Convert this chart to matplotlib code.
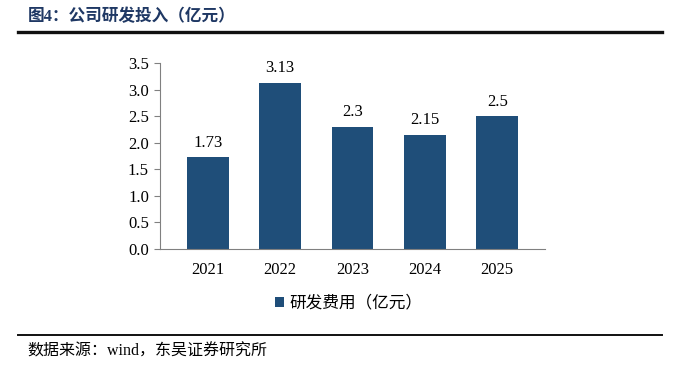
import matplotlib.pyplot as plt
from matplotlib.lines import Line2D

years = ["2021", "2022", "2023", "2024", "2025"]
rd_cost = [1.73, 3.13, 2.3, 2.15, 2.5]
value_labels = ["1.73", "3.13", "2.3", "2.15", "2.5"]

serif = ["Liberation Serif", "Noto Sans CJK SC"]
bar_color = "#1F4E79"

fig = plt.figure(figsize=(6.79, 3.70), dpi=100)
W, H = 679, 370

# axes: left 160px, right 545px, bottom y=249, top y=63
ax = fig.add_axes([160 / W, 1 - 249 / H, (545 - 160) / W, (249 - 63) / H])
x = list(range(len(years)))
bars = ax.bar(x, rd_cost, width=0.58, color=bar_color, zorder=2)
for xi, v, lab in zip(x, rd_cost, value_labels):
    ax.text(xi, v + 0.12, lab, ha="center", va="bottom", fontsize=12,
            family=serif, color="#000000")

ax.set_xlim(-0.66, 4.66)
ax.set_ylim(0, 3.5)
ax.set_yticks([0, 0.5, 1.0, 1.5, 2.0, 2.5, 3.0, 3.5])
ax.set_yticklabels([f"{t:.1f}" for t in ax.get_yticks()], family=serif, fontsize=12)
ax.set_xticks(x)
ax.set_xticklabels(years, family=serif, fontsize=12)
ax.tick_params(axis="x", length=0, pad=9)
ax.tick_params(axis="y", length=4, width=0.8, color="#808080", pad=4)
for s in ["top", "right"]:
    ax.spines[s].set_visible(False)
ax.spines["left"].set_color("#808080")
ax.spines["bottom"].set_color("#808080")

leg = ax.legend([bars], ["研发费用（亿元）"], loc="upper center",
                bbox_to_anchor=(0.49, -0.17), frameon=False,
                prop={"family": serif, "size": 12}, handlelength=0.55,
                handleheight=0.55, handletextpad=0.3)

# header and footer
fig.text(28 / W, 1 - 17 / H, "图4：公司研发投入（亿元）", family=serif, fontsize=12,
         fontweight="bold", color="#1F3864", va="center", ha="left")
fig.add_artist(Line2D([18 / W, 662 / W], [1 - 31.5 / H, 1 - 31.5 / H],
                      color="#111111", lw=2.4, transform=fig.transFigure))
fig.add_artist(Line2D([18 / W, 662 / W], [1 - 335 / H, 1 - 335 / H],
                      color="#111111", lw=1.4, transform=fig.transFigure))
fig.text(27 / W, 1 - 352 / H, "数据来源：wind，东吴证券研究所", family=serif, fontsize=11.5,
         color="#000000", va="center", ha="left")

fig.savefig("out.png", dpi=100)
